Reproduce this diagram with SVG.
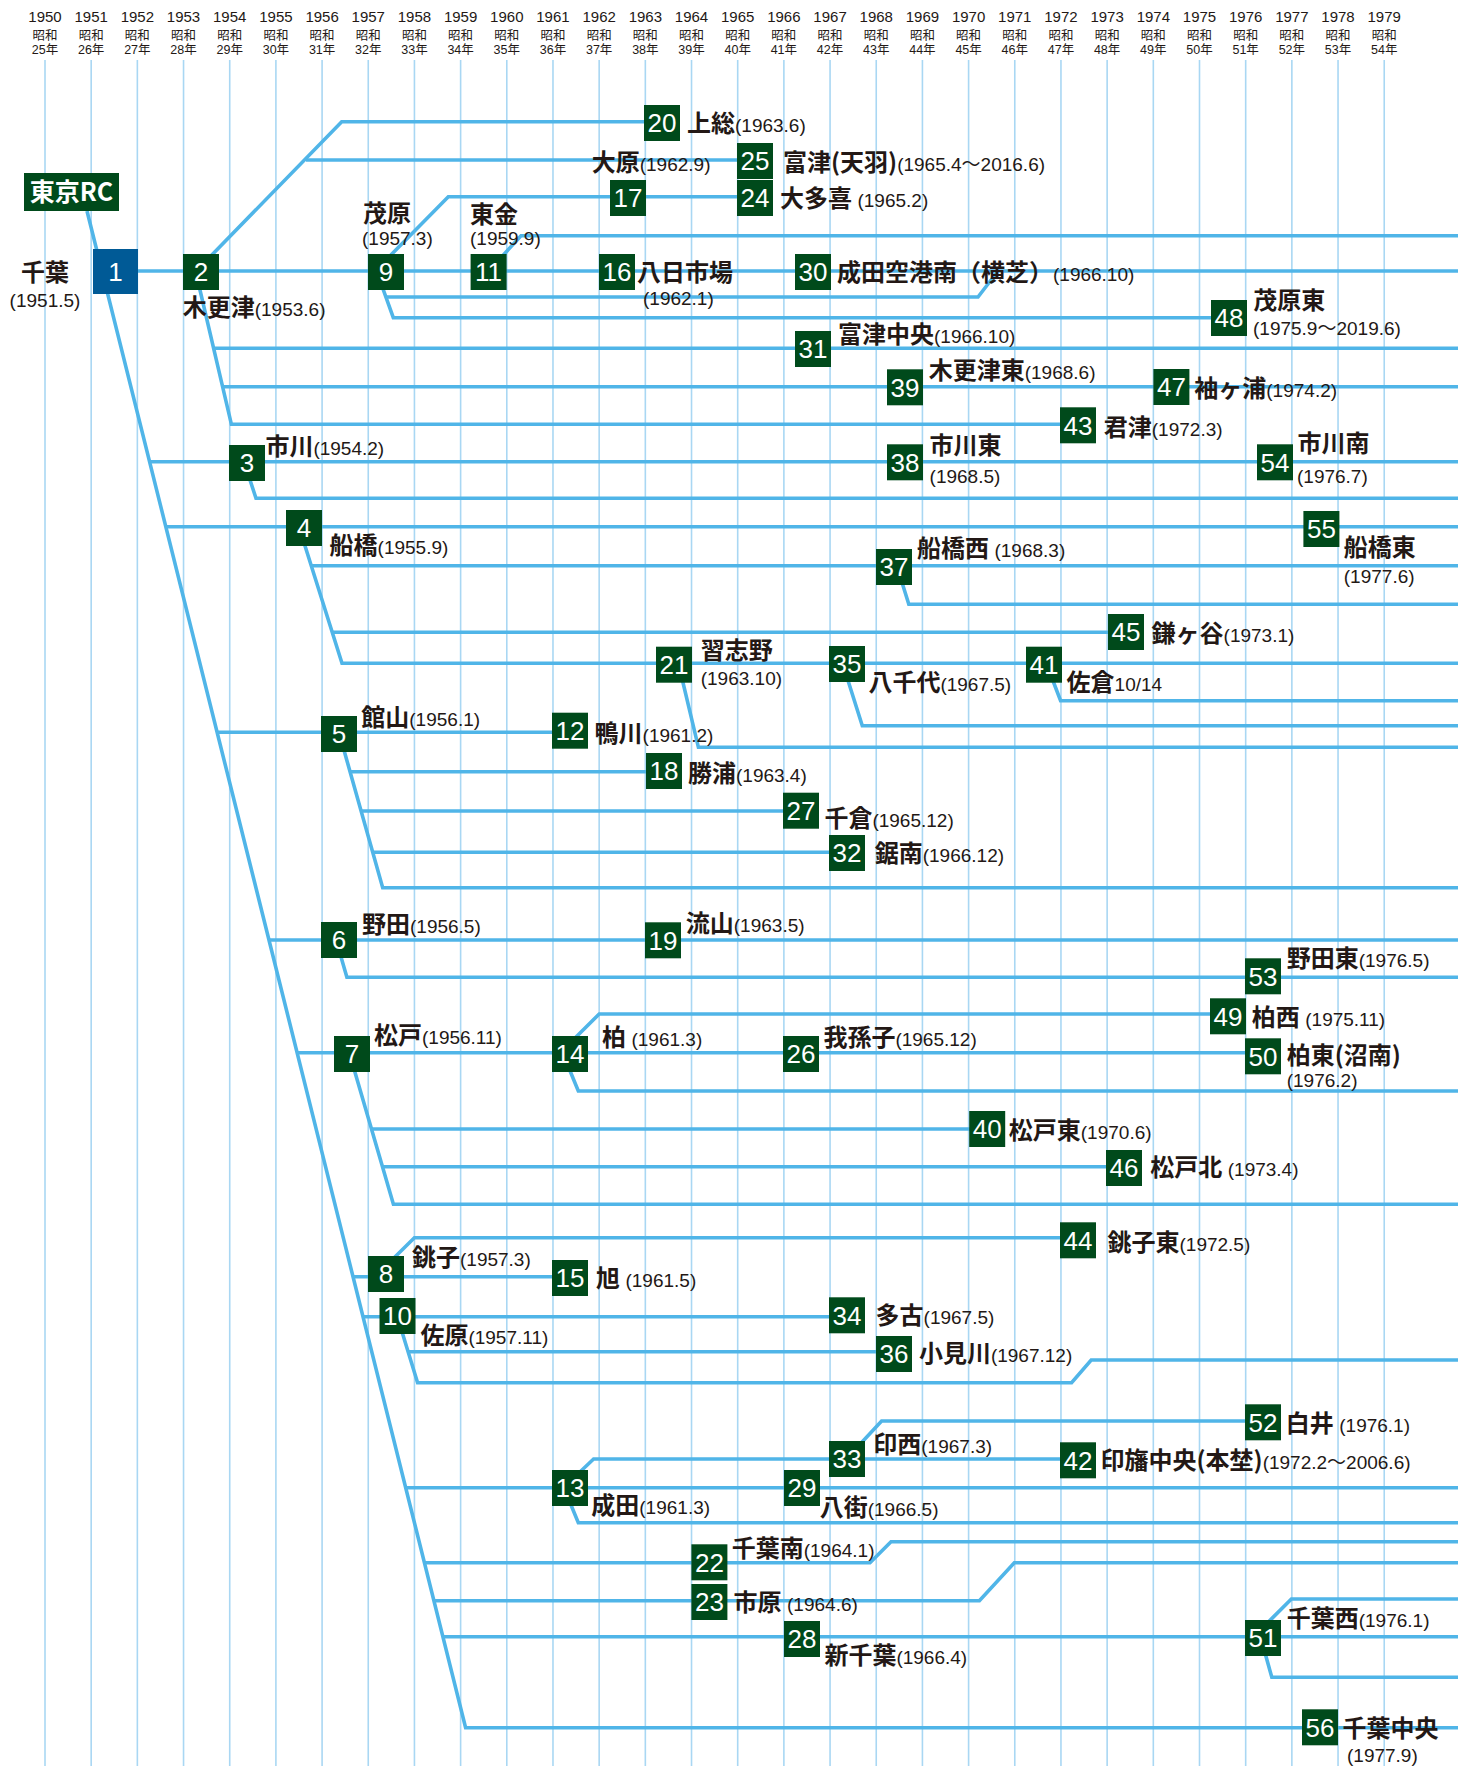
<svg xmlns="http://www.w3.org/2000/svg" width="1458" height="1766" viewBox="0 0 1458 1766">
<style>
.g{stroke:#a9d7f3;stroke-width:1.6}
.c{fill:none;stroke:#50b5e8;stroke-width:3.6;stroke-linejoin:miter}
.b{fill:#004a1b}
.n{font-family:"Liberation Sans",Arial,sans-serif;font-size:26px;fill:#fff;text-anchor:middle}
.t{font-family:"Noto Sans CJK JP","Liberation Sans",sans-serif;font-size:24px;font-weight:bold;fill:#231815}
.d{font-family:"Liberation Sans","Noto Sans CJK JP",sans-serif;font-size:19px;font-weight:normal;fill:#231815}
.hy{font-family:"Liberation Sans",Arial,sans-serif;font-size:15px;fill:#231815;text-anchor:middle}
.hs{font-family:"Liberation Sans","Noto Sans CJK JP",sans-serif;font-size:12.5px;fill:#231815;text-anchor:middle}
</style>
<rect width="1458" height="1766" fill="#fff"/>
<g id="grid">
<line class="g" x1="45" y1="60" x2="45" y2="1766"/><line class="g" x1="91.18" y1="60" x2="91.18" y2="1766"/><line class="g" x1="137.36" y1="60" x2="137.36" y2="1766"/><line class="g" x1="183.54" y1="60" x2="183.54" y2="1766"/><line class="g" x1="229.72" y1="60" x2="229.72" y2="1766"/><line class="g" x1="275.9" y1="60" x2="275.9" y2="1766"/><line class="g" x1="322.08" y1="60" x2="322.08" y2="1766"/><line class="g" x1="368.26" y1="60" x2="368.26" y2="1766"/><line class="g" x1="414.44" y1="60" x2="414.44" y2="1766"/><line class="g" x1="460.62" y1="60" x2="460.62" y2="1766"/><line class="g" x1="506.8" y1="60" x2="506.8" y2="1766"/><line class="g" x1="552.98" y1="60" x2="552.98" y2="1766"/><line class="g" x1="599.16" y1="60" x2="599.16" y2="1766"/><line class="g" x1="645.34" y1="60" x2="645.34" y2="1766"/><line class="g" x1="691.52" y1="60" x2="691.52" y2="1766"/><line class="g" x1="737.7" y1="60" x2="737.7" y2="1766"/><line class="g" x1="783.88" y1="60" x2="783.88" y2="1766"/><line class="g" x1="830.06" y1="60" x2="830.06" y2="1766"/><line class="g" x1="876.24" y1="60" x2="876.24" y2="1766"/><line class="g" x1="922.42" y1="60" x2="922.42" y2="1766"/><line class="g" x1="968.6" y1="60" x2="968.6" y2="1766"/><line class="g" x1="1014.78" y1="60" x2="1014.78" y2="1766"/><line class="g" x1="1060.96" y1="60" x2="1060.96" y2="1766"/><line class="g" x1="1107.14" y1="60" x2="1107.14" y2="1766"/><line class="g" x1="1153.32" y1="60" x2="1153.32" y2="1766"/><line class="g" x1="1199.5" y1="60" x2="1199.5" y2="1766"/><line class="g" x1="1245.68" y1="60" x2="1245.68" y2="1766"/><line class="g" x1="1291.86" y1="60" x2="1291.86" y2="1766"/><line class="g" x1="1338.04" y1="60" x2="1338.04" y2="1766"/><line class="g" x1="1384.22" y1="60" x2="1384.22" y2="1766"/>
</g>
<g id="header">
<text class="hy" x="45" y="22">1950</text><text class="hs" x="45" y="40">昭和</text><text class="hs" x="45" y="53.5">25年</text>
<text class="hy" x="91.18" y="22">1951</text><text class="hs" x="91.18" y="40">昭和</text><text class="hs" x="91.18" y="53.5">26年</text>
<text class="hy" x="137.36" y="22">1952</text><text class="hs" x="137.36" y="40">昭和</text><text class="hs" x="137.36" y="53.5">27年</text>
<text class="hy" x="183.54" y="22">1953</text><text class="hs" x="183.54" y="40">昭和</text><text class="hs" x="183.54" y="53.5">28年</text>
<text class="hy" x="229.72" y="22">1954</text><text class="hs" x="229.72" y="40">昭和</text><text class="hs" x="229.72" y="53.5">29年</text>
<text class="hy" x="275.9" y="22">1955</text><text class="hs" x="275.9" y="40">昭和</text><text class="hs" x="275.9" y="53.5">30年</text>
<text class="hy" x="322.08" y="22">1956</text><text class="hs" x="322.08" y="40">昭和</text><text class="hs" x="322.08" y="53.5">31年</text>
<text class="hy" x="368.26" y="22">1957</text><text class="hs" x="368.26" y="40">昭和</text><text class="hs" x="368.26" y="53.5">32年</text>
<text class="hy" x="414.44" y="22">1958</text><text class="hs" x="414.44" y="40">昭和</text><text class="hs" x="414.44" y="53.5">33年</text>
<text class="hy" x="460.62" y="22">1959</text><text class="hs" x="460.62" y="40">昭和</text><text class="hs" x="460.62" y="53.5">34年</text>
<text class="hy" x="506.8" y="22">1960</text><text class="hs" x="506.8" y="40">昭和</text><text class="hs" x="506.8" y="53.5">35年</text>
<text class="hy" x="552.98" y="22">1961</text><text class="hs" x="552.98" y="40">昭和</text><text class="hs" x="552.98" y="53.5">36年</text>
<text class="hy" x="599.16" y="22">1962</text><text class="hs" x="599.16" y="40">昭和</text><text class="hs" x="599.16" y="53.5">37年</text>
<text class="hy" x="645.34" y="22">1963</text><text class="hs" x="645.34" y="40">昭和</text><text class="hs" x="645.34" y="53.5">38年</text>
<text class="hy" x="691.52" y="22">1964</text><text class="hs" x="691.52" y="40">昭和</text><text class="hs" x="691.52" y="53.5">39年</text>
<text class="hy" x="737.7" y="22">1965</text><text class="hs" x="737.7" y="40">昭和</text><text class="hs" x="737.7" y="53.5">40年</text>
<text class="hy" x="783.88" y="22">1966</text><text class="hs" x="783.88" y="40">昭和</text><text class="hs" x="783.88" y="53.5">41年</text>
<text class="hy" x="830.06" y="22">1967</text><text class="hs" x="830.06" y="40">昭和</text><text class="hs" x="830.06" y="53.5">42年</text>
<text class="hy" x="876.24" y="22">1968</text><text class="hs" x="876.24" y="40">昭和</text><text class="hs" x="876.24" y="53.5">43年</text>
<text class="hy" x="922.42" y="22">1969</text><text class="hs" x="922.42" y="40">昭和</text><text class="hs" x="922.42" y="53.5">44年</text>
<text class="hy" x="968.6" y="22">1970</text><text class="hs" x="968.6" y="40">昭和</text><text class="hs" x="968.6" y="53.5">45年</text>
<text class="hy" x="1014.78" y="22">1971</text><text class="hs" x="1014.78" y="40">昭和</text><text class="hs" x="1014.78" y="53.5">46年</text>
<text class="hy" x="1060.96" y="22">1972</text><text class="hs" x="1060.96" y="40">昭和</text><text class="hs" x="1060.96" y="53.5">47年</text>
<text class="hy" x="1107.14" y="22">1973</text><text class="hs" x="1107.14" y="40">昭和</text><text class="hs" x="1107.14" y="53.5">48年</text>
<text class="hy" x="1153.32" y="22">1974</text><text class="hs" x="1153.32" y="40">昭和</text><text class="hs" x="1153.32" y="53.5">49年</text>
<text class="hy" x="1199.5" y="22">1975</text><text class="hs" x="1199.5" y="40">昭和</text><text class="hs" x="1199.5" y="53.5">50年</text>
<text class="hy" x="1245.68" y="22">1976</text><text class="hs" x="1245.68" y="40">昭和</text><text class="hs" x="1245.68" y="53.5">51年</text>
<text class="hy" x="1291.86" y="22">1977</text><text class="hs" x="1291.86" y="40">昭和</text><text class="hs" x="1291.86" y="53.5">52年</text>
<text class="hy" x="1338.04" y="22">1978</text><text class="hs" x="1338.04" y="40">昭和</text><text class="hs" x="1338.04" y="53.5">53年</text>
<text class="hy" x="1384.22" y="22">1979</text><text class="hs" x="1384.22" y="40">昭和</text><text class="hs" x="1384.22" y="53.5">54年</text>
</g>
<g id="connectors">
<path class="c" d="M87,211 L465.6,1727.7 H1458"/>
<path class="c" d="M115,271 H1458"/>
<path class="c" d="M205,262 L341.7,121.7 H662"/>
<path class="c" d="M306,160 H750"/>
<path class="c" d="M196,273 L231.4,424.3 H1070"/>
<path class="c" d="M213,348.3 H1458"/>
<path class="c" d="M222.6,386.7 H1458"/>
<path class="c" d="M384,262 L448.3,196.7 H750"/>
<path class="c" d="M378,275 L393.3,317.7 H1225"/>
<path class="c" d="M385.8,297 H978 L998,271"/>
<path class="c" d="M497,262 L521,235.7 H1458"/>
<path class="c" d="M149.6,461.7 H1458"/>
<path class="c" d="M246.7,470 L256,498.3 H1458"/>
<path class="c" d="M165.8,526.7 H1458"/>
<path class="c" d="M300,530 L342,663.3 H1458"/>
<path class="c" d="M311.3,565.7 H1458"/>
<path class="c" d="M332.2,632.3 H1120"/>
<path class="c" d="M680,670 L698.4,747.3 H1458"/>
<path class="c" d="M845,671 L862.3,725.7 H1458"/>
<path class="c" d="M1050,673 L1060.6,700.7 H1458"/>
<path class="c" d="M900,576 L908.8,604.3 H1458"/>
<path class="c" d="M217.1,732.3 H570"/>
<path class="c" d="M340,736 L382.7,887.7 H1458"/>
<path class="c" d="M350.1,771.7 H660"/>
<path class="c" d="M361.2,811 H800"/>
<path class="c" d="M372.8,852.3 H840"/>
<path class="c" d="M269,940 H1458"/>
<path class="c" d="M339,950 L346.9,977.3 H1458"/>
<path class="c" d="M297.1,1052.7 H1260"/>
<path class="c" d="M568,1045 L599.2,1014 H1225"/>
<path class="c" d="M566.8,1063 L578.3,1091 H1458"/>
<path class="c" d="M351.4,1060 L393.4,1204.3 H1458"/>
<path class="c" d="M371.5,1129 H985"/>
<path class="c" d="M382.5,1166.7 H1120"/>
<path class="c" d="M353,1276.7 H570"/>
<path class="c" d="M386.8,1265 L414.4,1237.7 H1075"/>
<path class="c" d="M363,1316.7 H845"/>
<path class="c" d="M399,1322 L417.6,1382.7 H1071.6 L1091.2,1360 H1458"/>
<path class="c" d="M408.1,1351.7 H890"/>
<path class="c" d="M405.7,1487.7 H1458"/>
<path class="c" d="M571.5,1480 L593.6,1459 H1075"/>
<path class="c" d="M852.8,1452 L881.6,1421 H1260"/>
<path class="c" d="M566.9,1495 L578.3,1522.7 H1458"/>
<path class="c" d="M424.4,1562.7 H870 L891,1541.7 H1458"/>
<path class="c" d="M433.9,1600.7 H979.4 L1014.3,1562.7 H1458"/>
<path class="c" d="M442.9,1636.7 H1458"/>
<path class="c" d="M1260.4,1630 L1291.4,1599 H1458"/>
<path class="c" d="M1262.8,1645 L1271.8,1677.3 H1458"/>
</g>
<g id="tokyo"><rect class="b" x="24" y="173" width="95" height="38"/><text x="71.5" y="201" font-family="Noto Sans CJK JP,Liberation Sans,sans-serif" font-size="25" font-weight="bold" fill="#fff" text-anchor="middle">東京RC</text></g>
<g id="n1"><rect x="93" y="249" width="45" height="45" fill="#005a96"/><text class="n" x="115.5" y="281">1</text><text class="t" x="45" y="281" text-anchor="middle">千葉</text><text class="d" x="45" y="306.5" text-anchor="middle">(1951.5)</text></g>
<g id="n2"><rect class="b" x="183" y="254" width="36" height="36"/><text class="n" x="201" y="281.3">2</text><text class="t" x="182.7" y="315.7">木更津<tspan class="d">(1953.6)</tspan></text></g>
<g id="n3"><rect class="b" x="229" y="445" width="36" height="36"/><text class="n" x="247" y="472.3">3</text><text class="t" x="265.4" y="455">市川<tspan class="d">(1954.2)</tspan></text></g>
<g id="n4"><rect class="b" x="286" y="510" width="36" height="36"/><text class="n" x="304" y="537.3">4</text><text class="t" x="329.6" y="554">船橋<tspan class="d">(1955.9)</tspan></text></g>
<g id="n5"><rect class="b" x="321" y="716" width="36" height="36"/><text class="n" x="339" y="743.3">5</text><text class="t" x="361.3" y="725.7">館山<tspan class="d">(1956.1)</tspan></text></g>
<g id="n6"><rect class="b" x="321" y="922" width="36" height="36"/><text class="n" x="339" y="949.3">6</text><text class="t" x="362" y="933">野田<tspan class="d">(1956.5)</tspan></text></g>
<g id="n7"><rect class="b" x="334" y="1036" width="36" height="36"/><text class="n" x="352" y="1063.3">7</text><text class="t" x="374" y="1044">松戸<tspan class="d">(1956.11)</tspan></text></g>
<g id="n8"><rect class="b" x="368" y="1256" width="36" height="36"/><text class="n" x="386" y="1283.3">8</text><text class="t" x="412" y="1266">銚子<tspan class="d">(1957.3)</tspan></text></g>
<g id="n9"><rect class="b" x="368" y="254" width="36" height="36"/><text class="n" x="386" y="281.3">9</text><text class="t" x="363" y="222">茂原</text><text class="d" x="362" y="244.5">(1957.3)</text></g>
<g id="n10"><rect class="b" x="379.5" y="1298" width="36" height="36"/><text class="n" x="397.5" y="1325.3">10</text><text class="t" x="420.4" y="1344">佐原<tspan class="d">(1957.11)</tspan></text></g>
<g id="n11"><rect class="b" x="470.6" y="254" width="36" height="36"/><text class="n" x="488.6" y="281.3">11</text><text class="t" x="470" y="223">東金</text><text class="d" x="470" y="244.5">(1959.9)</text></g>
<g id="n12"><rect class="b" x="552" y="712.7" width="36" height="36"/><text class="n" x="570" y="740">12</text><text class="t" x="594.6" y="742">鴨川<tspan class="d">(1961.2)</tspan></text></g>
<g id="n13"><rect class="b" x="552" y="1470" width="36" height="36"/><text class="n" x="570" y="1497.3">13</text><text class="t" x="591.3" y="1514">成田<tspan class="d">(1961.3)</tspan></text></g>
<g id="n14"><rect class="b" x="552" y="1036" width="36" height="36"/><text class="n" x="570" y="1063.3">14</text><text class="t" x="602" y="1045.7">柏 <tspan class="d">(1961.3)</tspan></text></g>
<g id="n15"><rect class="b" x="552" y="1260" width="36" height="36"/><text class="n" x="570" y="1287.3">15</text><text class="t" x="596" y="1287">旭 <tspan class="d">(1961.5)</tspan></text></g>
<g id="n16"><rect class="b" x="599" y="254" width="36" height="36"/><text class="n" x="617" y="281.3">16</text><text class="t" x="637" y="280.7">八日市場</text><text class="d" x="643" y="304.5">(1962.1)</text></g>
<g id="n17"><rect class="b" x="610" y="180" width="36" height="36"/><text class="n" x="628" y="207.3">17</text><text class="t" x="591.7" y="170.7">大原<tspan class="d">(1962.9)</tspan></text></g>
<g id="n18"><rect class="b" x="646" y="753" width="36" height="36"/><text class="n" x="664" y="780.3">18</text><text class="t" x="688" y="782">勝浦<tspan class="d">(1963.4)</tspan></text></g>
<g id="n19"><rect class="b" x="645" y="922.3" width="36" height="36"/><text class="n" x="663" y="949.6">19</text><text class="t" x="685.8" y="932">流山<tspan class="d">(1963.5)</tspan></text></g>
<g id="n20"><rect class="b" x="644" y="105" width="36" height="36"/><text class="n" x="662" y="132.3">20</text><text class="t" x="687" y="132">上総<tspan class="d">(1963.6)</tspan></text></g>
<g id="n21"><rect class="b" x="656" y="646.7" width="36" height="36"/><text class="n" x="674" y="674">21</text><text class="t" x="700.7" y="659">習志野</text><text class="d" x="700.7" y="684.5">(1963.10)</text></g>
<g id="n22"><rect class="b" x="691.4" y="1544.3" width="36" height="36"/><text class="n" x="709.4" y="1571.6">22</text><text class="t" x="731.7" y="1556.7">千葉南<tspan class="d">(1964.1)</tspan></text></g>
<g id="n23"><rect class="b" x="691.4" y="1584" width="36" height="36"/><text class="n" x="709.4" y="1611.3">23</text><text class="t" x="733.6" y="1610.7">市原 <tspan class="d">(1964.6)</tspan></text></g>
<g id="n24"><rect class="b" x="737" y="180" width="36" height="36"/><text class="n" x="755" y="207.3">24</text><text class="t" x="780" y="207">大多喜 <tspan class="d">(1965.2)</tspan></text></g>
<g id="n25"><rect class="b" x="737" y="143" width="36" height="36"/><text class="n" x="755" y="170.3">25</text><text class="t" x="783" y="170.7">富津(天羽)<tspan class="d">(1965.4～2016.6)</tspan></text></g>
<g id="n26"><rect class="b" x="783" y="1036" width="36" height="36"/><text class="n" x="801" y="1063.3">26</text><text class="t" x="823.4" y="1045.7">我孫子<tspan class="d">(1965.12)</tspan></text></g>
<g id="n27"><rect class="b" x="783" y="792.7" width="36" height="36"/><text class="n" x="801" y="820">27</text><text class="t" x="824.4" y="827">千倉<tspan class="d">(1965.12)</tspan></text></g>
<g id="n28"><rect class="b" x="784" y="1621" width="36" height="36"/><text class="n" x="802" y="1648.3">28</text><text class="t" x="824.4" y="1664">新千葉<tspan class="d">(1966.4)</tspan></text></g>
<g id="n29"><rect class="b" x="784" y="1470" width="36" height="36"/><text class="n" x="802" y="1497.3">29</text><text class="t" x="819.7" y="1515.7">八街<tspan class="d">(1966.5)</tspan></text></g>
<g id="n30"><rect class="b" x="795" y="254" width="36" height="36"/><text class="n" x="813" y="281.3">30</text><text class="t" x="837" y="280.7">成田空港南（横芝）<tspan class="d">(1966.10)</tspan></text></g>
<g id="n31"><rect class="b" x="795" y="331" width="36" height="36"/><text class="n" x="813" y="358.3">31</text><text class="t" x="838" y="343">富津中央<tspan class="d">(1966.10)</tspan></text></g>
<g id="n32"><rect class="b" x="829" y="835" width="36" height="36"/><text class="n" x="847" y="862.3">32</text><text class="t" x="874.7" y="862">鋸南<tspan class="d">(1966.12)</tspan></text></g>
<g id="n33"><rect class="b" x="829" y="1441" width="36" height="36"/><text class="n" x="847" y="1468.3">33</text><text class="t" x="873.3" y="1453">印西<tspan class="d">(1967.3)</tspan></text></g>
<g id="n34"><rect class="b" x="829" y="1297.3" width="36" height="36"/><text class="n" x="847" y="1324.6">34</text><text class="t" x="875.6" y="1324">多古<tspan class="d">(1967.5)</tspan></text></g>
<g id="n35"><rect class="b" x="829" y="646" width="36" height="36"/><text class="n" x="847" y="673.3">35</text><text class="t" x="868.4" y="690.7">八千代<tspan class="d">(1967.5)</tspan></text></g>
<g id="n36"><rect class="b" x="876" y="1336" width="36" height="36"/><text class="n" x="894" y="1363.3">36</text><text class="t" x="918.9" y="1362">小見川<tspan class="d">(1967.12)</tspan></text></g>
<g id="n37"><rect class="b" x="876" y="549" width="36" height="36"/><text class="n" x="894" y="576.3">37</text><text class="t" x="917" y="557">船橋西 <tspan class="d">(1968.3)</tspan></text></g>
<g id="n38"><rect class="b" x="887" y="444.3" width="36" height="36"/><text class="n" x="905" y="471.6">38</text><text class="t" x="929.6" y="454">市川東</text><text class="d" x="929.6" y="483">(1968.5)</text></g>
<g id="n39"><rect class="b" x="887" y="369.3" width="36" height="36"/><text class="n" x="905" y="396.6">39</text><text class="t" x="928.7" y="379">木更津東<tspan class="d">(1968.6)</tspan></text></g>
<g id="n40"><rect class="b" x="969.2" y="1111" width="36" height="36"/><text class="n" x="987.2" y="1138.3">40</text><text class="t" x="1008.8" y="1139">松戸東<tspan class="d">(1970.6)</tspan></text></g>
<g id="n41"><rect class="b" x="1026" y="646.7" width="36" height="36"/><text class="n" x="1044" y="674">41</text><text class="t" x="1066.6" y="690.7">佐倉<tspan class="d">10/14</tspan></text></g>
<g id="n42"><rect class="b" x="1060" y="1442.3" width="36" height="36"/><text class="n" x="1078" y="1469.6">42</text><text class="t" x="1100.5" y="1469">印旛中央(本埜)<tspan class="d">(1972.2～2006.6)</tspan></text></g>
<g id="n43"><rect class="b" x="1060" y="407.3" width="36" height="36"/><text class="n" x="1078" y="434.6">43</text><text class="t" x="1103.8" y="435.7">君津<tspan class="d">(1972.3)</tspan></text></g>
<g id="n44"><rect class="b" x="1060" y="1222.3" width="36" height="36"/><text class="n" x="1078" y="1249.6">44</text><text class="t" x="1107.5" y="1250.7">銚子東<tspan class="d">(1972.5)</tspan></text></g>
<g id="n45"><rect class="b" x="1108" y="614" width="36" height="36"/><text class="n" x="1126" y="641.3">45</text><text class="t" x="1151.6" y="642">鎌ヶ谷<tspan class="d">(1973.1)</tspan></text></g>
<g id="n46"><rect class="b" x="1106" y="1150" width="36" height="36"/><text class="n" x="1124" y="1177.3">46</text><text class="t" x="1150.3" y="1175.7">松戸北 <tspan class="d">(1973.4)</tspan></text></g>
<g id="n47"><rect class="b" x="1153.4" y="369" width="36" height="36"/><text class="n" x="1171.4" y="396.3">47</text><text class="t" x="1194.3" y="397">袖ヶ浦<tspan class="d">(1974.2)</tspan></text></g>
<g id="n48"><rect class="b" x="1211" y="300" width="36" height="36"/><text class="n" x="1229" y="327.3">48</text><text class="t" x="1253.3" y="309">茂原東</text><text class="d" x="1253" y="335">(1975.9～2019.6)</text></g>
<g id="n49"><rect class="b" x="1210" y="998.3" width="36" height="36"/><text class="n" x="1228" y="1025.6">49</text><text class="t" x="1251.8" y="1025.7">柏西 <tspan class="d">(1975.11)</tspan></text></g>
<g id="n50"><rect class="b" x="1245" y="1038.3" width="36" height="36"/><text class="n" x="1263" y="1065.6">50</text><text class="t" x="1286.7" y="1064">柏東(沼南)</text><text class="d" x="1286.7" y="1086.5">(1976.2)</text></g>
<g id="n51"><rect class="b" x="1245" y="1620" width="36" height="36"/><text class="n" x="1263" y="1647.3">51</text><text class="t" x="1286.7" y="1627">千葉西<tspan class="d">(1976.1)</tspan></text></g>
<g id="n52"><rect class="b" x="1245" y="1404.3" width="36" height="36"/><text class="n" x="1263" y="1431.6">52</text><text class="t" x="1285.8" y="1432">白井 <tspan class="d">(1976.1)</tspan></text></g>
<g id="n53"><rect class="b" x="1245" y="958.3" width="36" height="36"/><text class="n" x="1263" y="985.6">53</text><text class="t" x="1286.7" y="967">野田東<tspan class="d">(1976.5)</tspan></text></g>
<g id="n54"><rect class="b" x="1257" y="444.3" width="36" height="36"/><text class="n" x="1275" y="471.6">54</text><text class="t" x="1297.4" y="452">市川南</text><text class="d" x="1297" y="483">(1976.7)</text></g>
<g id="n55"><rect class="b" x="1303.4" y="511" width="36" height="36"/><text class="n" x="1321.4" y="538.3">55</text><text class="t" x="1343.8" y="555.7">船橋東</text><text class="d" x="1343.8" y="583">(1977.6)</text></g>
<g id="n56"><rect class="b" x="1302" y="1709.3" width="36" height="36"/><text class="n" x="1320" y="1736.6">56</text><text class="t" x="1342.6" y="1737">千葉中央</text><text class="d" x="1347" y="1761.5">(1977.9)</text></g>
</svg>
